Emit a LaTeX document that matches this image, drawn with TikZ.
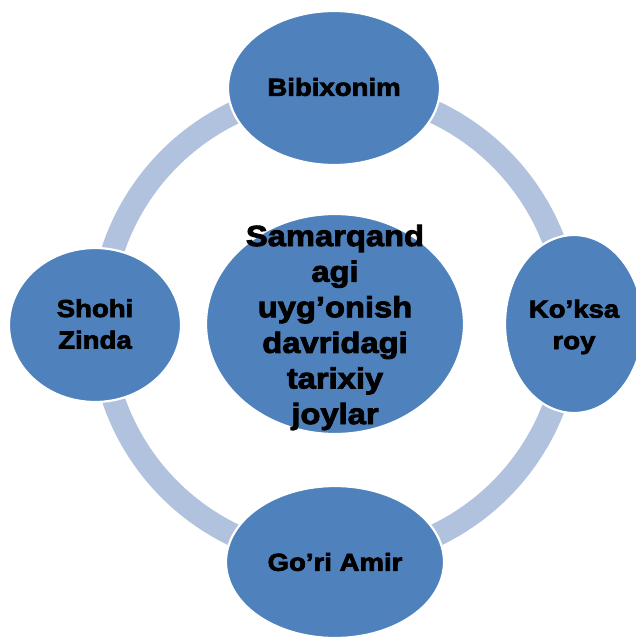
\documentclass[tikz,border=0pt]{standalone}
\usepackage{fontspec}
\newfontfamily\lab{Liberation Sans}[FakeStretch=1.12,BoldFeatures={FakeBold=3}]
\usetikzlibrary{shapes.geometric}
\definecolor{nodeblue}{RGB}{79,129,189}
\definecolor{ringblue}{RGB}{176,194,221}
\tikzset{
  blob/.style={ellipse,fill=nodeblue,draw=white,line width=2.2pt,inner sep=0pt},
  outertext/.style={align=center,font=\lab\bfseries\fontsize{24.6}{31.5}\selectfont,inner sep=0pt},
  centertext/.style={align=center,font=\lab\bfseries\fontsize{29.2}{35.6}\selectfont,inner sep=0pt},
  ring/.style={draw=ringblue,line width=23pt}
}
\begin{document}
\begin{tikzpicture}[x=1pt,y=-1pt]
\useasboundingbox (0,0) rectangle (635,637);
\coordinate (mid) at (335,324);
\draw[ring] (mid) circle[radius=234];
\node[blob,minimum width=212pt,minimum height=154pt] (bibi) at (334,88) {};
\node[blob,minimum width=172pt,minimum height=154pt] (shohi) at (95,325) {};
\node[blob,minimum width=138pt,minimum height=178pt] (koksa) at (574,324) {};
\node[blob,minimum width=218pt,minimum height=152pt] (gori) at (335,562) {};
\node[blob,minimum width=258pt,minimum height=220pt] (sam) at (mid) {};
\node[outertext] (tbibi) at (334,87) {Bibixonim};
\node[outertext] (tshohi) at (95,324) {Shohi\\Zinda};
\node[outertext] (tkoksa) at (574,327) {Ko’ksa\\roy};
\node[outertext] (tgori) at (335,562) {Go’ri Amir};
\node[centertext] (tsam) at (335,327.5) {Samarqand\\agi\\uyg’onish\\davridagi\\tarixiy\\joylar};
\end{tikzpicture}
\end{document}
